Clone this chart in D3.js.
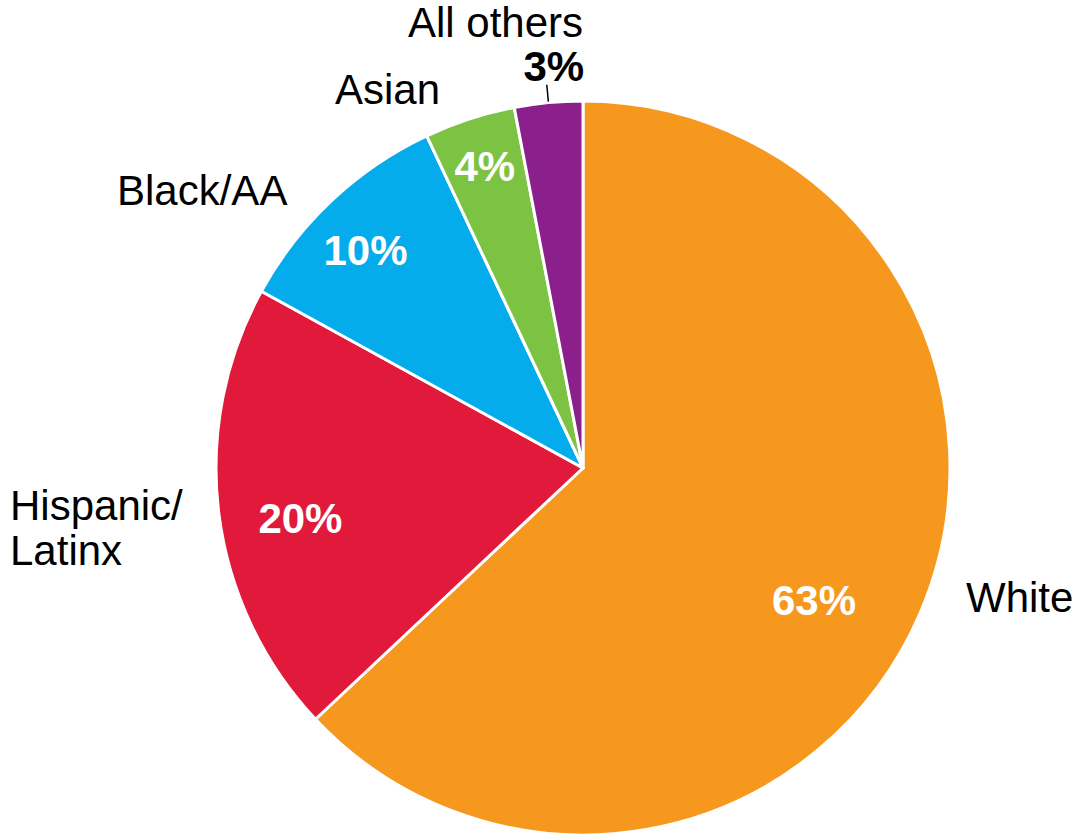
<!DOCTYPE html>
<html><head><meta charset="utf-8">
<script src="https://cdn.jsdelivr.net/npm/d3@7"></script>
<style>
html,body{margin:0;padding:0;background:#fff;}
svg text{font-family:"Liberation Sans",Arial,Helvetica,sans-serif;}
</style></head>
<body>
<svg id="chart" width="1078" height="836"></svg>
<script>
const categories = ["White", "Hispanic/Latinx", "Black/AA", "Asian", "All others"];
const values = [63, 20, 10, 4, 3];
const pctLabels = ["63%", "20%", "10%", "4%", "3%"];
const colors = ["#F7981E", "#E11A3B", "#04ACEB", "#7DC343", "#8B1F8B"];

// layout (positions kept separate from data)
const W = 1078, H = 836;
const cx = 583, cy = 468, R = 367;
// percentage label placement: radius and angle nudge (radians) relative to slice mid-angle
const pctLayout = [
  {r: 266, da: 0.11},
  {r: 287, da: -0.05},
  {r: 308, da: -0.03},
  {r: 318, da: 0.0},
  null
];
// category label placement relative to pie centre: [dx, dy(baseline), anchor]
const catLayout = [
  {dx: 383, dy: 144, anchor: "start", lines: ["White"]},
  {dx: -573, dy: 52, anchor: "start", lines: ["Hispanic/", "Latinx"]},
  {dx: -466, dy: -263, anchor: "start", lines: ["Black/AA"]},
  {dx: -248, dy: -364, anchor: "start", lines: ["Asian"]},
  {dx: -175, dy: -431, anchor: "start", lines: ["All others"]}
];
const fs = 42;

const svg = d3.select("#chart");
const g = svg.append("g").attr("transform", `translate(${cx},${cy})`);

const pie = d3.pie().sort(null).value(d => d.v).startAngle(0).endAngle(2 * Math.PI);
const data = categories.map((c, i) => ({c, v: values[i], i}));
const arcs = pie(data);
const arc = d3.arc().innerRadius(0).outerRadius(R);

g.selectAll("path.slice").data(arcs).enter().append("path")
  .attr("class", "slice")
  .attr("d", arc)
  .attr("fill", d => colors[d.data.i])
  .attr("stroke", "#fff")
  .attr("stroke-width", 3)
  .attr("stroke-linejoin", "round");

// percentage labels inside
arcs.forEach((d, i) => {
  const L = pctLayout[i];
  if (!L) return;
  const a = (d.startAngle + d.endAngle) / 2 + L.da;
  const x = L.r * Math.sin(a), y = -L.r * Math.cos(a);
  g.append("text")
    .attr("x", x).attr("y", y)
    .attr("text-anchor", "middle")
    .attr("dy", "0.36em")
    .attr("font-size", fs)
    .attr("font-weight", "bold")
    .attr("fill", "#fff")
    .text(pctLabels[i]);
});

// category labels
arcs.forEach((d, i) => {
  const L = catLayout[i];
  const t = g.append("text")
    .attr("x", L.dx).attr("y", L.dy)
    .attr("text-anchor", L.anchor)
    .attr("font-size", fs)
    .attr("fill", "#000");
  L.lines.forEach((ln, k) => {
    t.append("tspan").attr("x", L.dx).attr("dy", k === 0 ? 0 : 45).text(ln);
  });
});

// small slice: outside pct label with leader tick
const last = arcs[arcs.length - 1];
const am = (last.startAngle + last.endAngle) / 2;
const r1 = R + 1, r2 = R + 18;
g.append("line")
  .attr("x1", r1 * Math.sin(am)).attr("y1", -r1 * Math.cos(am))
  .attr("x2", r2 * Math.sin(am)).attr("y2", -r2 * Math.cos(am))
  .attr("stroke", "#000").attr("stroke-width", 1.5);
g.append("text")
  .attr("x", r2 * Math.sin(am) + 7).attr("y", -R - 20)
  .attr("text-anchor", "middle")
  .attr("font-size", fs)
  .attr("font-weight", "bold")
  .attr("fill", "#000")
  .text(pctLabels[pctLabels.length - 1]);
</script>
</body></html>
